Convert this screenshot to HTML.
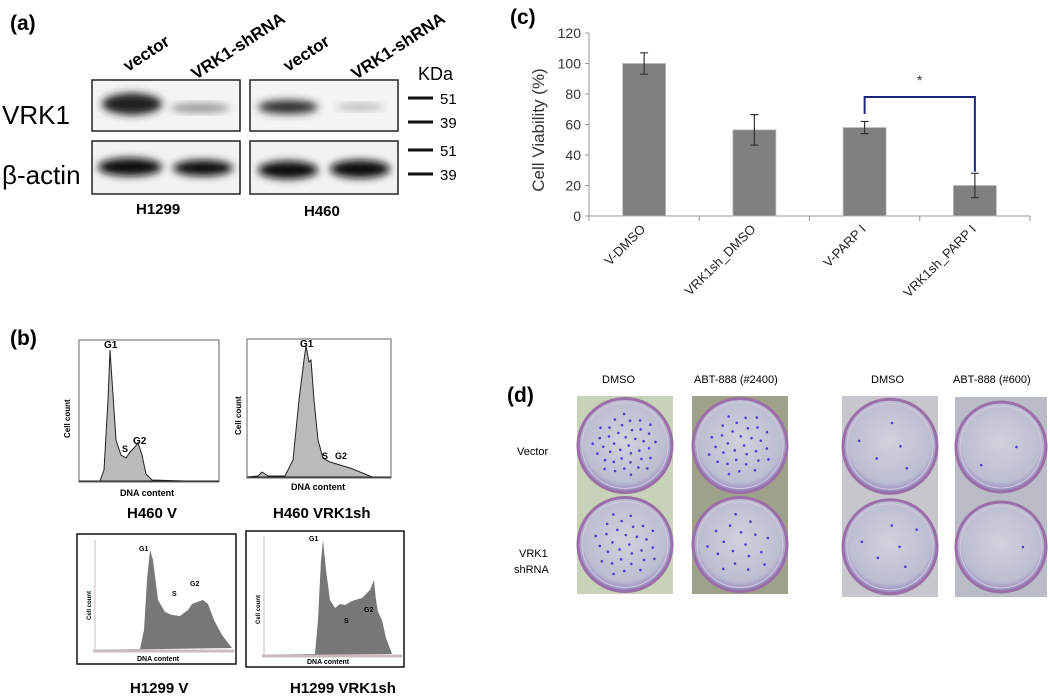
<!DOCTYPE html>
<html><head><meta charset="utf-8"><style>
body{margin:0;background:#fff}
svg{display:block;font-family:"Liberation Sans",sans-serif}
</style></head><body>
<svg id="fig" width="1050" height="696" viewBox="0 0 1050 696">
<defs>
<filter id="blur" x="-20%" y="-50%" width="140%" height="200%"><feGaussianBlur stdDeviation="4"/></filter>
<radialGradient id="well" cx="50%" cy="45%" r="55%"><stop offset="0" stop-color="#d0d2dc"/><stop offset="0.8" stop-color="#bcbdd2"/><stop offset="1" stop-color="#8d7fb8"/></radialGradient>
</defs>

<!-- Panel A -->
<g>
<text x="10" y="30" font-size="21" font-weight="bold">(a)</text>
<g font-weight="bold" font-size="17">
<text transform="translate(128,72) rotate(-33)">vector</text>
<text transform="translate(196,80) rotate(-33)">VRK1-shRNA</text>
<text transform="translate(288,72) rotate(-33)">vector</text>
<text transform="translate(356,80) rotate(-33)">VRK1-shRNA</text>
</g>
<text x="2" y="124" font-size="26">VRK1</text>
<text x="2" y="184" font-size="26">β-actin</text>
<g>
<rect x="92" y="80" width="148" height="51" fill="#f4f4f4" stroke="#222" stroke-width="1.5"/>
<ellipse cx="132" cy="104" rx="30" ry="11" fill="#222" filter="url(#blur)"/>
<ellipse cx="200" cy="108" rx="30" ry="4" fill="#888" filter="url(#blur)"/>
</g>
<g>
<rect x="250" y="80" width="148" height="51" fill="#f4f4f4" stroke="#222" stroke-width="1.5"/>
<ellipse cx="288" cy="107" rx="30" ry="7" fill="#333" filter="url(#blur)"/>
<ellipse cx="360" cy="107" rx="24" ry="3" fill="#aaa" filter="url(#blur)"/>
</g>
<g>
<rect x="92" y="141" width="148" height="53" fill="#f2f2f2" stroke="#222" stroke-width="1.5"/>
<ellipse cx="130" cy="167" rx="32" ry="9" fill="#111" filter="url(#blur)"/>
<ellipse cx="203" cy="168" rx="30" ry="8" fill="#111" filter="url(#blur)"/>
</g>
<g>
<rect x="250" y="141" width="148" height="53" fill="#f2f2f2" stroke="#222" stroke-width="1.5"/>
<ellipse cx="288" cy="170" rx="30" ry="9" fill="#111" filter="url(#blur)"/>
<ellipse cx="360" cy="169" rx="30" ry="9" fill="#111" filter="url(#blur)"/>
</g>
<text x="418" y="80" font-size="18">KDa</text>
<g stroke="#111" stroke-width="3">
<line x1="408" y1="98" x2="433" y2="98"/><line x1="408" y1="122" x2="433" y2="122"/>
<line x1="408" y1="150" x2="433" y2="150"/><line x1="408" y1="174" x2="433" y2="174"/>
</g>
<g font-size="15">
<text x="440" y="104">51</text>
<text x="440" y="128">39</text>
<text x="440" y="156">51</text>
<text x="440" y="180">39</text>
</g>
<text x="136" y="214" font-size="15" font-weight="bold">H1299</text>
<text x="304" y="216" font-size="15" font-weight="bold">H460</text>
</g>

<!-- Panel B -->
<g>
<text x="10" y="345" font-size="21" font-weight="bold">(b)</text>
<g>
<rect x="79" y="340" width="140" height="142" fill="none" stroke="#666" stroke-width="1"/>
<path d="M79 481 L100 481 L104 470 L108 400 L110 350 L112 380 L116 440 L121 455 L126 458 L130 452 L134 448 L138 443 L142 455 L146 474 L152 480 L185 481 L219 481 Z" fill="#bbb" stroke="#222" stroke-width="1"/>
<text x="104" y="348" font-size="10" font-weight="bold">G1</text>
<text x="122" y="452" font-size="9" font-weight="bold">S</text>
<text x="133" y="444" font-size="10" font-weight="bold">G2</text>
<text transform="translate(70,438) rotate(-90)" font-size="8" font-weight="bold">Cell count</text>
<text x="120" y="496" font-size="9" font-weight="bold">DNA content</text>
</g>
<g>
<rect x="247" y="339" width="144" height="139" fill="none" stroke="#666" stroke-width="1"/>
<path d="M247 477 L258 476 L262 472 L268 476 L285 476 L293 460 L299 400 L304 360 L306 346 L309 362 L311 360 L314 400 L318 440 L323 458 L330 462 L340 465 L350 468 L360 472 L372 477 L391 477 Z" fill="#bbb" stroke="#222" stroke-width="1"/>
<text x="300" y="347" font-size="10" font-weight="bold">G1</text>
<text x="322" y="459" font-size="9" font-weight="bold">S</text>
<text x="335" y="459" font-size="9" font-weight="bold">G2</text>
<text transform="translate(241,435) rotate(-90)" font-size="8" font-weight="bold">Cell count</text>
<text x="291" y="490" font-size="9" font-weight="bold">DNA content</text>
</g>
<text x="127" y="518" font-size="15" font-weight="bold">H460 V</text>
<text x="273" y="518" font-size="15" font-weight="bold">H460 VRK1sh</text>
<g>
<rect x="77" y="534" width="159" height="130" fill="#fff" stroke="#111" stroke-width="1.5"/>
<line x1="95" y1="540" x2="95" y2="651" stroke="#cbb"/><line x1="93" y1="651" x2="234" y2="651" stroke="#cbb" stroke-width="3"/>
<path d="M95 650 L140 649 L144 630 L147 580 L150 550 L153 560 L158 600 L165 612 L172 615 L180 616 L188 610 L192 604 L197 602 L203 600 L208 604 L214 620 L222 635 L232 648 Z" fill="#777"/>
<text x="139" y="551" font-size="7" font-weight="bold">G1</text><text x="172" y="596" font-size="7" font-weight="bold">S</text><text x="190" y="586" font-size="7" font-weight="bold">G2</text>
<text transform="translate(91,620) rotate(-90)" font-size="6" font-weight="bold">Cell count</text>
<text x="137" y="661" font-size="7" font-weight="bold">DNA content</text>
</g>
<g>
<rect x="246" y="531" width="158" height="136" fill="#fff" stroke="#111" stroke-width="1.5"/>
<line x1="264" y1="536" x2="264" y2="656" stroke="#cbb"/><line x1="262" y1="656" x2="402" y2="656" stroke="#cbb" stroke-width="3"/>
<path d="M264 655 L315 654 L318 620 L321 560 L323 540 L326 570 L330 600 L335 608 L340 604 L345 605 L352 601 L362 598 L370 594 L374 588 L378 612 L382 620 L386 638 L392 654 Z" fill="#777"/>
<path d="M362 598 L370 590 L374 580 L377 612" fill="#777"/>
<text x="309" y="541" font-size="7" font-weight="bold">G1</text><text x="344" y="623" font-size="7" font-weight="bold">S</text><text x="364" y="612" font-size="7" font-weight="bold">G2</text>
<text transform="translate(260,624) rotate(-90)" font-size="6" font-weight="bold">Cell count</text>
<text x="307" y="664" font-size="7" font-weight="bold">DNA content</text>
</g>
<text x="130" y="693" font-size="15" font-weight="bold">H1299 V</text>
<text x="290" y="693" font-size="15" font-weight="bold">H1299 VRK1sh</text>
</g>

<!-- Panel C -->
<g id="chartC">
<text x="510" y="24" font-size="21" font-weight="bold">(c)</text>
<text transform="translate(544,130) rotate(-90)" font-size="17" fill="#333" text-anchor="middle">Cell Viability (%)</text>
</g>

<!-- Panel D -->
<g id="panelD">
<text x="507" y="402" font-size="21" font-weight="bold">(d)</text>
<g font-size="11">
<text x="602" y="383">DMSO</text>
<text x="694" y="383">ABT-888 (#2400)</text>
<text x="871" y="383">DMSO</text>
<text x="953" y="383">ABT-888 (#600)</text>
<text x="517" y="455">Vector</text>
<text x="519" y="557">VRK1</text>
<text x="514" y="573">shRNA</text>
</g>
</g>
</svg>
<script>
// Panel C data
const categories = ["V-DMSO", "VRK1sh_DMSO", "V-PARP I", "VRK1sh_PARP I"];
const viability = [100, 56.5, 58, 20];
const errors = [7, 10, 4, 8];
const yTicks = [0, 20, 40, 60, 80, 100, 120];

const NS = "http://www.w3.org/2000/svg";
const gC = document.getElementById("chartC");
const X0 = 589, X1 = 1030, Y0 = 216, Y1 = 33, YMAX = 120;
const band = (X1 - X0) / categories.length;
const xC = i => X0 + band * (i + 0.5);
const yS = v => Y0 - (v / YMAX) * (Y0 - Y1);
function mk(tag, attrs, parent) {
  const e = document.createElementNS(NS, tag);
  for (const k in attrs) e.setAttribute(k, attrs[k]);
  (parent || gC).appendChild(e);
  return e;
}
const yAxis = mk("line", {x1: X0, y1: Y1, x2: X0, y2: Y0, stroke: "#999"});


const xAxis = mk("line", {x1: X0, y1: Y0, x2: X1, y2: Y0, stroke: "#999"});


yTicks.forEach(t => {
  mk("line", {x1: X0 - 4, y1: yS(t), x2: X0, y2: yS(t), stroke: "#999"});
  const tx = mk("text", {x: X0 - 8, y: yS(t) + 5, "font-size": 14, fill: "#333", "text-anchor": "end"});
  tx.textContent = t;
  
  
});
for (let i = 0; i <= categories.length; i++) {
  mk("line", {x1: X0 + band * i, y1: Y0, x2: X0 + band * i, y2: Y0 + 5, stroke: "#999"});
}
categories.forEach((c, i) => {
  const w = 43, cx = xC(i);
  const bar = mk("rect", {x: cx - w / 2, y: yS(viability[i]), width: w, height: Y0 - yS(viability[i]), fill: "#808080", stroke: "#bbb", "stroke-width": 0.8});
  
  
  const hi = yS(viability[i] + errors[i]), lo = yS(viability[i] - errors[i]);
  const eb = mk("path", {d: `M${cx} ${hi}V${lo}M${cx-4} ${hi}H${cx+4}M${cx-4} ${lo}H${cx+4}`, stroke: "#333", "stroke-width": 1.2, fill: "none"});
  
  
  const lab = mk("text", {transform: `translate(${cx + 2},${Y0 + 14}) rotate(-45)`, "font-size": 13, fill: "#222", "text-anchor": "end"});
  lab.textContent = c;
  
  
});
const bTop = yS(78);
const br = mk("path", {d: `M${xC(2)} ${yS(67)}V${bTop}H${xC(3)}V${yS(29)}`, stroke: "#1a237e", "stroke-width": 2, fill: "none"});


const st = mk("text", {x: (xC(2) + xC(3)) / 2, y: bTop - 12, "font-size": 14, "text-anchor": "middle", fill: "#333"});
st.textContent = "*";



// Panel D plates (photos approximated)
const gD = document.getElementById("panelD");
const plates = [[577, 396, 96, 198, "#c8d2b8"], [692, 396, 96, 198, "#9ea28a"], [842, 396, 96, 201, "#c6c6cc"], [955, 397, 92, 200, "#b9bcc6"]];
const colonies = [[40, 30], [32, 18], [5, 6], [2, 1]];
plates.forEach((p, pi) => {
  const g = mk("g", {}, gD);
  
  
  mk("rect", {x: p[0], y: p[1], width: p[2], height: p[3], fill: p[4]}, g);
  [0, 1].forEach(r => {
    const cx = p[0] + p[2] / 2, cy = p[1] + p[3] * (r ? 0.75 : 0.25), rr = p[2] / 2 - 1;
    mk("circle", {cx, cy, r: rr, fill: "url(#well)", stroke: "#9a6fa8", "stroke-width": 3}, g);
    mk("circle", {cx, cy, r: rr - 4, fill: "none", stroke: "#d7c7e0", "stroke-width": 1}, g);
    const n = colonies[pi][r];
    for (let k = 0; k < n; k++) {
      const a = k * 2.399, d = Math.sqrt((k + 0.5) / n) * (rr - 14);
      mk("circle", {cx: cx + Math.cos(a) * d, cy: cy + Math.sin(a) * d, r: 1.3, fill: "#4b3fd0"}, g);
    }
  });
});
</script>
</body></html>
